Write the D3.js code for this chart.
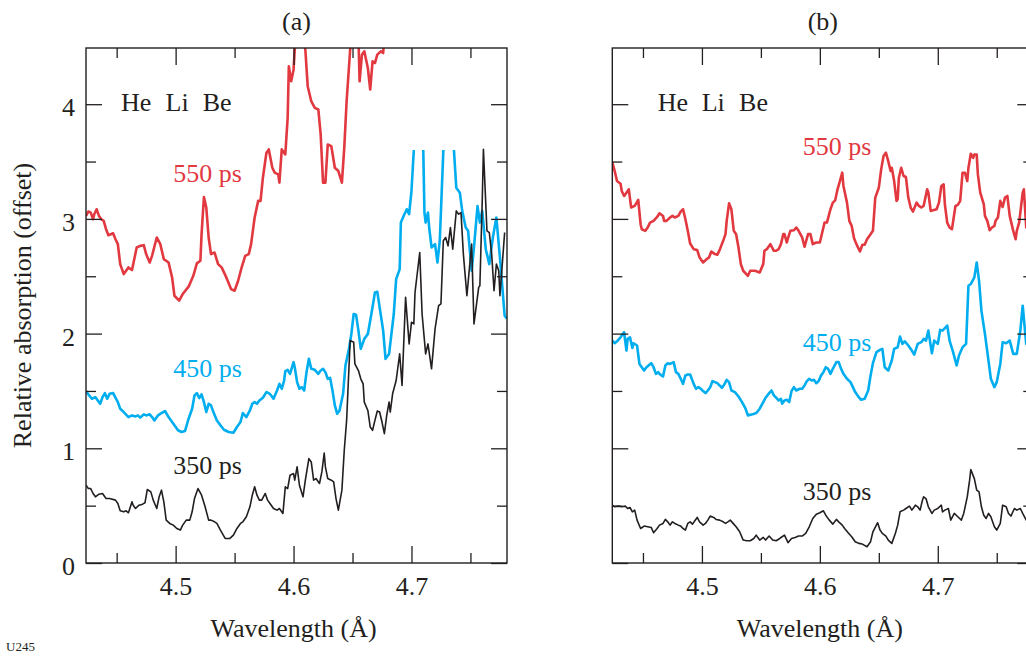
<!DOCTYPE html>
<html>
<head>
<meta charset="utf-8">
<script src="https://cdn.jsdelivr.net/npm/d3@7"></script>
<style>
body { margin: 0; background: #fff; }
text { font-family: "Liberation Serif", "Times New Roman", serif; fill: #231f20; }
</style>
</head>
<body>
<svg width="1026" height="656"></svg>
<script>
// wavelength (Å), relative absorption (offset)
var a550 = [[4.424,3.026],[4.426,3.064],[4.428,3.055],[4.430,2.997],[4.431,3.041],[4.433,3.084],[4.435,3.026],[4.437,2.997],[4.439,2.983],[4.441,2.910],[4.443,2.858],[4.447,2.875],[4.449,2.823],[4.451,2.780],[4.453,2.606],[4.456,2.519],[4.460,2.577],[4.463,2.554],[4.467,2.751],[4.470,2.765],[4.473,2.771],[4.475,2.693],[4.478,2.620],[4.480,2.678],[4.484,2.838],[4.487,2.780],[4.490,2.649],[4.494,2.620],[4.497,2.490],[4.499,2.330],[4.503,2.287],[4.506,2.345],[4.511,2.409],[4.515,2.504],[4.518,2.612],[4.521,2.635],[4.522,2.867],[4.524,3.191],[4.526,3.099],[4.528,2.838],[4.530,2.693],[4.533,2.707],[4.536,2.606],[4.539,2.577],[4.543,2.490],[4.547,2.388],[4.550,2.374],[4.553,2.461],[4.556,2.577],[4.559,2.678],[4.562,2.693],[4.564,2.780],[4.567,3.012],[4.570,3.157],[4.572,3.157],[4.574,3.359],[4.577,3.577],[4.579,3.606],[4.582,3.446],[4.584,3.403],[4.587,3.388],[4.588,3.316],[4.590,3.606],[4.593,3.562],[4.595,3.881],[4.596,4.330],[4.598,4.200],[4.600,4.301],[4.601,4.475],[4.604,4.72],[4.608,4.72],[4.610,4.475],[4.612,4.157],[4.615,4.026],[4.618,3.968],[4.621,3.954],[4.623,3.736],[4.625,3.316],[4.627,3.316],[4.629,3.649],[4.632,3.635],[4.635,3.446],[4.638,3.417],[4.641,3.316],[4.643,3.620],[4.645,4.026],[4.648,4.475],[4.651,4.72],[4.655,4.60],[4.656,4.200],[4.658,4.432],[4.660,4.461],[4.663,4.316],[4.665,4.128],[4.667,4.374],[4.669,4.359],[4.671,4.432],[4.674,4.461],[4.676,4.446],[4.677,4.60],[4.700,4.80],[4.781,4.80]];

var a450 = [[4.424,1.499],[4.426,1.470],[4.429,1.432],[4.432,1.446],[4.434,1.417],[4.436,1.388],[4.438,1.446],[4.440,1.481],[4.442,1.432],[4.444,1.475],[4.447,1.481],[4.449,1.441],[4.451,1.403],[4.453,1.345],[4.456,1.316],[4.460,1.272],[4.463,1.287],[4.466,1.278],[4.468,1.287],[4.470,1.267],[4.473,1.296],[4.475,1.287],[4.478,1.296],[4.480,1.272],[4.482,1.243],[4.485,1.287],[4.488,1.307],[4.491,1.325],[4.494,1.272],[4.497,1.229],[4.499,1.200],[4.502,1.157],[4.505,1.142],[4.508,1.151],[4.511,1.258],[4.514,1.345],[4.516,1.461],[4.518,1.481],[4.520,1.438],[4.522,1.470],[4.524,1.403],[4.526,1.316],[4.528,1.388],[4.530,1.374],[4.532,1.316],[4.535,1.243],[4.538,1.200],[4.541,1.162],[4.545,1.142],[4.549,1.136],[4.552,1.186],[4.555,1.229],[4.557,1.307],[4.560,1.272],[4.563,1.330],[4.565,1.388],[4.567,1.403],[4.569,1.388],[4.571,1.417],[4.574,1.441],[4.577,1.490],[4.579,1.481],[4.581,1.461],[4.583,1.432],[4.586,1.504],[4.588,1.562],[4.590,1.519],[4.592,1.591],[4.593,1.672],[4.595,1.684],[4.597,1.649],[4.600,1.751],[4.601,1.707],[4.603,1.577],[4.605,1.519],[4.607,1.533],[4.609,1.504],[4.611,1.664],[4.613,1.780],[4.615,1.693],[4.618,1.684],[4.621,1.649],[4.623,1.678],[4.625,1.693],[4.627,1.664],[4.629,1.606],[4.631,1.614],[4.633,1.504],[4.635,1.374],[4.637,1.301],[4.639,1.330],[4.642,1.475],[4.644,1.722],[4.647,1.867],[4.649,1.997],[4.651,2.171],[4.653,2.165],[4.655,2.026],[4.657,1.867],[4.660,1.954],[4.663,1.997],[4.666,2.171],[4.669,2.359],[4.671,2.365],[4.673,2.229],[4.676,2.026],[4.678,1.780],[4.681,1.823],[4.683,1.997],[4.685,2.171],[4.687,2.475],[4.690,2.562],[4.691,2.968],[4.694,3.041],[4.696,3.084],[4.698,3.041],[4.700,3.243],[4.702,3.606],[4.706,4.0],[4.709,4.0],[4.710,3.6],[4.711,3.055],[4.712,2.968],[4.714,3.055],[4.715,2.925],[4.717,2.751],[4.720,2.780],[4.722,2.620],[4.724,2.809],[4.725,3.070],[4.727,3.591],[4.731,4.2],[4.735,4.2],[4.736,3.6],[4.738,3.272],[4.741,3.229],[4.743,3.070],[4.746,2.925],[4.748,2.896],[4.751,2.548],[4.753,2.751],[4.756,3.113],[4.758,2.968],[4.760,3.070],[4.763,2.736],[4.766,2.606],[4.769,2.838],[4.772,3.012],[4.775,2.664],[4.779,2.157],[4.781,2.13]];

var a350 = [[4.424,0.678],[4.426,0.649],[4.428,0.649],[4.430,0.606],[4.432,0.577],[4.435,0.600],[4.438,0.606],[4.441,0.562],[4.444,0.562],[4.449,0.548],[4.451,0.519],[4.453,0.455],[4.456,0.446],[4.458,0.455],[4.460,0.438],[4.463,0.533],[4.464,0.504],[4.466,0.475],[4.469,0.504],[4.472,0.513],[4.474,0.525],[4.476,0.641],[4.479,0.620],[4.481,0.548],[4.484,0.475],[4.486,0.577],[4.488,0.635],[4.490,0.533],[4.492,0.374],[4.495,0.345],[4.498,0.330],[4.501,0.301],[4.504,0.287],[4.506,0.330],[4.509,0.374],[4.512,0.374],[4.514,0.446],[4.516,0.562],[4.519,0.649],[4.522,0.591],[4.525,0.490],[4.528,0.374],[4.530,0.374],[4.533,0.359],[4.535,0.345],[4.538,0.287],[4.542,0.214],[4.546,0.214],[4.549,0.243],[4.552,0.301],[4.555,0.345],[4.557,0.359],[4.560,0.403],[4.563,0.490],[4.565,0.591],[4.567,0.664],[4.569,0.591],[4.571,0.548],[4.573,0.548],[4.576,0.606],[4.578,0.548],[4.580,0.519],[4.583,0.475],[4.586,0.461],[4.588,0.475],[4.591,0.432],[4.593,0.664],[4.595,0.649],[4.597,0.765],[4.600,0.780],[4.601,0.722],[4.603,0.838],[4.605,0.678],[4.608,0.577],[4.610,0.722],[4.613,0.910],[4.615,0.881],[4.617,0.722],[4.619,0.736],[4.622,0.693],[4.624,0.794],[4.626,0.959],[4.627,0.838],[4.629,0.736],[4.632,0.722],[4.634,0.707],[4.636,0.562],[4.638,0.461],[4.641,0.635],[4.643,0.983],[4.645,1.243],[4.647,1.707],[4.648,1.939],[4.651,1.925],[4.652,1.736],[4.655,1.678],[4.657,1.606],[4.659,1.562],[4.660,1.403],[4.663,1.330],[4.665,1.186],[4.667,1.157],[4.669,1.243],[4.671,1.325],[4.673,1.316],[4.675,1.229],[4.677,1.128],[4.679,1.287],[4.681,1.403],[4.682,1.316],[4.684,1.475],[4.687,1.591],[4.690,1.823],[4.692,1.548],[4.695,2.316],[4.698,1.910],[4.700,2.099],[4.702,2.084],[4.703,2.359],[4.707,2.707],[4.709,2.171],[4.712,1.823],[4.714,1.910],[4.717,1.693],[4.720,2.041],[4.723,2.243],[4.725,2.260],[4.727,2.809],[4.729,2.838],[4.731,2.765],[4.733,2.925],[4.735,2.736],[4.738,3.070],[4.740,3.041],[4.742,3.055],[4.744,2.693],[4.747,2.330],[4.751,2.780],[4.753,2.084],[4.757,2.403],[4.758,2.417],[4.760,3.157],[4.761,3.606],[4.764,2.896],[4.766,2.881],[4.768,2.693],[4.770,2.374],[4.772,2.606],[4.774,2.548],[4.775,2.330],[4.779,2.881]];

var b550 = [[4.424,3.496],[4.426,3.417],[4.428,3.330],[4.431,3.307],[4.432,3.243],[4.434,3.200],[4.436,3.229],[4.438,3.258],[4.440,3.099],[4.443,3.113],[4.446,3.165],[4.448,2.954],[4.449,2.910],[4.452,2.896],[4.454,2.925],[4.456,2.968],[4.459,2.983],[4.462,3.017],[4.464,3.049],[4.467,3.026],[4.468,2.983],[4.470,2.983],[4.473,3.012],[4.475,3.026],[4.477,3.012],[4.480,3.026],[4.482,3.064],[4.484,3.084],[4.486,2.997],[4.488,2.896],[4.490,2.786],[4.493,2.736],[4.496,2.728],[4.498,2.664],[4.501,2.620],[4.504,2.649],[4.506,2.664],[4.508,2.716],[4.511,2.693],[4.513,2.687],[4.515,2.728],[4.518,2.809],[4.520,2.867],[4.521,2.983],[4.523,3.136],[4.525,3.084],[4.527,2.896],[4.529,2.867],[4.531,2.751],[4.533,2.606],[4.535,2.548],[4.539,2.504],[4.541,2.548],[4.545,2.548],[4.549,2.533],[4.552,2.606],[4.553,2.722],[4.555,2.736],[4.558,2.780],[4.561,2.722],[4.563,2.722],[4.565,2.736],[4.567,2.780],[4.569,2.867],[4.570,2.867],[4.572,2.794],[4.573,2.832],[4.575,2.896],[4.578,2.901],[4.580,2.925],[4.582,2.896],[4.585,2.838],[4.587,2.757],[4.590,2.867],[4.592,2.867],[4.594,2.780],[4.597,2.794],[4.600,2.794],[4.604,2.968],[4.606,2.968],[4.609,3.084],[4.611,3.142],[4.613,3.162],[4.615,3.258],[4.617,3.330],[4.619,3.403],[4.620,3.287],[4.623,3.142],[4.625,2.983],[4.627,2.939],[4.629,2.832],[4.631,2.780],[4.634,2.716],[4.636,2.774],[4.638,2.774],[4.640,2.823],[4.643,2.867],[4.645,2.896],[4.647,3.186],[4.650,3.272],[4.652,3.432],[4.654,3.548],[4.656,3.577],[4.658,3.504],[4.660,3.417],[4.661,3.446],[4.663,3.330],[4.665,3.157],[4.666,3.171],[4.667,3.359],[4.669,3.446],[4.671,3.374],[4.673,3.365],[4.675,3.186],[4.677,3.099],[4.679,3.064],[4.682,3.142],[4.684,3.113],[4.686,3.099],[4.688,3.113],[4.691,3.258],[4.692,3.230],[4.694,3.070],[4.696,3.075],[4.699,3.084],[4.701,3.142],[4.703,3.287],[4.705,3.301],[4.706,3.128],[4.708,2.968],[4.710,2.925],[4.712,2.910],[4.715,3.113],[4.717,3.122],[4.719,3.157],[4.721,3.403],[4.723,3.403],[4.725,3.330],[4.726,3.446],[4.728,3.568],[4.730,3.533],[4.731,3.562],[4.733,3.562],[4.734,3.388],[4.736,3.229],[4.739,3.128],[4.740,3.026],[4.742,2.983],[4.744,2.901],[4.746,2.925],[4.748,2.939],[4.749,2.983],[4.751,3.012],[4.753,3.157],[4.755,3.104],[4.757,3.186],[4.759,3.200],[4.761,3.026],[4.764,2.896],[4.766,2.823],[4.767,2.896],[4.769,2.968],[4.772,3.229],[4.773,3.258],[4.775,2.925],[4.781,2.900]];

var b450 = [[4.424,1.939],[4.426,1.916],[4.428,1.933],[4.431,1.968],[4.432,1.983],[4.434,2.012],[4.436,1.852],[4.437,1.954],[4.439,1.968],[4.441,1.875],[4.442,1.916],[4.445,1.896],[4.447,1.736],[4.449,1.707],[4.451,1.678],[4.453,1.707],[4.457,1.742],[4.459,1.707],[4.461,1.649],[4.463,1.664],[4.464,1.649],[4.467,1.626],[4.469,1.722],[4.471,1.742],[4.473,1.736],[4.476,1.751],[4.478,1.664],[4.480,1.649],[4.482,1.606],[4.484,1.562],[4.486,1.635],[4.488,1.643],[4.490,1.643],[4.493,1.562],[4.495,1.519],[4.497,1.533],[4.499,1.519],[4.501,1.499],[4.503,1.481],[4.505,1.504],[4.507,1.533],[4.509,1.586],[4.511,1.577],[4.513,1.568],[4.515,1.548],[4.517,1.527],[4.519,1.557],[4.521,1.597],[4.523,1.577],[4.525,1.504],[4.528,1.490],[4.531,1.452],[4.534,1.403],[4.537,1.345],[4.539,1.287],[4.543,1.296],[4.546,1.307],[4.549,1.345],[4.552,1.403],[4.554,1.441],[4.557,1.481],[4.559,1.504],[4.561,1.461],[4.563,1.441],[4.565,1.417],[4.567,1.432],[4.568,1.388],[4.570,1.417],[4.572,1.423],[4.574,1.403],[4.576,1.499],[4.578,1.533],[4.580,1.504],[4.583,1.519],[4.585,1.519],[4.587,1.548],[4.589,1.586],[4.591,1.606],[4.593,1.591],[4.595,1.597],[4.597,1.568],[4.599,1.586],[4.601,1.635],[4.603,1.664],[4.605,1.707],[4.607,1.693],[4.609,1.649],[4.611,1.693],[4.614,1.751],[4.616,1.751],[4.618,1.693],[4.620,1.649],[4.623,1.606],[4.626,1.577],[4.628,1.533],[4.630,1.490],[4.633,1.446],[4.635,1.423],[4.638,1.432],[4.641,1.504],[4.643,1.635],[4.645,1.742],[4.648,1.838],[4.651,1.858],[4.653,1.867],[4.655,1.707],[4.658,1.678],[4.661,1.765],[4.663,1.867],[4.666,1.881],[4.668,1.974],[4.670,1.910],[4.672,1.933],[4.675,1.896],[4.678,1.852],[4.680,1.817],[4.683,1.910],[4.686,1.925],[4.688,1.954],[4.690,1.939],[4.692,2.026],[4.695,1.829],[4.697,1.939],[4.700,1.910],[4.702,2.032],[4.704,2.026],[4.708,2.070],[4.710,1.939],[4.713,1.838],[4.716,1.722],[4.718,1.809],[4.721,1.881],[4.724,1.910],[4.726,2.417],[4.728,2.432],[4.731,2.490],[4.733,2.620],[4.735,2.461],[4.737,2.200],[4.740,1.997],[4.743,1.765],[4.745,1.606],[4.748,1.533],[4.750,1.577],[4.753,1.736],[4.755,1.925],[4.758,1.916],[4.761,1.939],[4.764,1.823],[4.767,1.823],[4.770,2.026],[4.772,2.243],[4.775,1.910],[4.781,1.850]];

var b350 = [[4.424,0.504],[4.426,0.490],[4.429,0.496],[4.432,0.490],[4.435,0.496],[4.437,0.475],[4.439,0.484],[4.441,0.446],[4.443,0.461],[4.445,0.374],[4.448,0.301],[4.451,0.322],[4.454,0.316],[4.457,0.310],[4.459,0.264],[4.462,0.301],[4.464,0.330],[4.467,0.345],[4.469,0.380],[4.471,0.359],[4.473,0.330],[4.475,0.359],[4.477,0.345],[4.480,0.330],[4.482,0.322],[4.484,0.301],[4.486,0.287],[4.488,0.345],[4.490,0.359],[4.492,0.339],[4.494,0.368],[4.496,0.397],[4.498,0.359],[4.501,0.330],[4.503,0.345],[4.505,0.374],[4.507,0.409],[4.510,0.397],[4.512,0.380],[4.515,0.374],[4.518,0.359],[4.520,0.345],[4.522,0.359],[4.524,0.374],[4.527,0.339],[4.529,0.316],[4.532,0.272],[4.535,0.200],[4.538,0.194],[4.541,0.194],[4.544,0.214],[4.546,0.243],[4.549,0.200],[4.552,0.223],[4.554,0.200],[4.557,0.235],[4.560,0.200],[4.563,0.194],[4.566,0.214],[4.568,0.229],[4.570,0.243],[4.573,0.177],[4.576,0.214],[4.579,0.223],[4.582,0.235],[4.585,0.235],[4.588,0.258],[4.591,0.316],[4.594,0.388],[4.597,0.426],[4.600,0.438],[4.603,0.455],[4.605,0.417],[4.608,0.374],[4.611,0.339],[4.614,0.380],[4.616,0.359],[4.619,0.330],[4.621,0.301],[4.624,0.264],[4.627,0.229],[4.630,0.186],[4.633,0.171],[4.636,0.165],[4.640,0.142],[4.643,0.186],[4.645,0.272],[4.649,0.351],[4.651,0.287],[4.653,0.258],[4.656,0.235],[4.658,0.200],[4.661,0.171],[4.664,0.258],[4.666,0.330],[4.668,0.446],[4.671,0.461],[4.673,0.475],[4.676,0.496],[4.678,0.461],[4.681,0.504],[4.683,0.490],[4.685,0.461],[4.687,0.548],[4.688,0.577],[4.690,0.562],[4.692,0.490],[4.695,0.432],[4.697,0.461],[4.700,0.475],[4.703,0.504],[4.704,0.446],[4.706,0.461],[4.709,0.475],[4.711,0.374],[4.714,0.432],[4.717,0.403],[4.720,0.374],[4.722,0.432],[4.725,0.577],[4.727,0.722],[4.728,0.814],[4.731,0.736],[4.733,0.635],[4.735,0.620],[4.737,0.490],[4.739,0.417],[4.741,0.388],[4.743,0.432],[4.745,0.403],[4.748,0.316],[4.750,0.287],[4.753,0.345],[4.755,0.504],[4.758,0.490],[4.760,0.432],[4.762,0.409],[4.765,0.475],[4.767,0.461],[4.770,0.475],[4.772,0.432],[4.775,0.374],[4.781,0.360]];

var xMajor = [4.5, 4.6, 4.7],
    xMinor = [4.45, 4.55, 4.65, 4.75],
    yMajor = [0, 1, 2, 3, 4],
    yMinor = [0.5, 1.5, 2.5, 3.5];

var delays = ["550 ps", "450 ps", "350 ps"];
var elements = ["He", "Li", "Be"];

var colors = ["#e2383f", "#00aeef", "#231f20"],
    widths = [2.6, 2.6, 1.6];

var svg = d3.select("svg"),
    width = 421,
    height = 515,
    plotTop = 48;

var x = d3.scaleLinear().domain([4.424, 4.781]).range([0, width]),
    y = d3.scaleLinear().domain([0, 4.49]).range([height, 0]);

var line = d3.line()
    .x(function(d) { return x(d[0]); })
    .y(function(d) { return y(d[1]); });

var panels = [
  {id: "a", left: 86, title: "(a)", data: [a550, a450, a350], cap: [null, 3.6, null], yLabels: true,
   labelPos: [[4.498, 3.32], [4.498, 1.62], [4.498, 0.774]], elemX: [4.4537, 4.4915, 4.5230]},
  {id: "b", left: 612.3, title: "(b)", data: [b550, b450, b350], cap: [null, null, null], yLabels: false,
   labelPos: [[4.5855, 3.557], [4.5855, 1.852], [4.5855, 0.548]], elemX: [4.4625, 4.4998, 4.5315]}
];

var defs = svg.append("defs");

panels.forEach(function(p) {
  var g = svg.append("g").attr("transform", "translate(" + p.left + "," + plotTop + ")");

  defs.append("clipPath").attr("id", "clip-" + p.id)
    .append("rect").attr("width", width).attr("height", height);
  defs.append("clipPath").attr("id", "cap-" + p.id)
    .append("rect").attr("y", y(3.6)).attr("width", width).attr("height", height - y(3.6));

  p.data.forEach(function(d, i) {
    g.append("path")
        .datum(d)
        .attr("clip-path", "url(#" + (p.cap[i] ? "cap-" : "clip-") + p.id + ")")
        .attr("d", line)
        .style("fill", "none")
        .style("stroke", colors[i])
        .style("stroke-width", widths[i])
        .style("stroke-linejoin", "round");
  });

  // ticks, all pointing inward
  var axes = [
    g.append("g").attr("transform", "translate(0," + height + ")")
      .call(d3.axisBottom(x).tickValues(xMajor).tickSize(-17).tickPadding(14).tickFormat(d3.format(".1f"))),
    g.append("g").attr("transform", "translate(0," + height + ")")
      .call(d3.axisBottom(x).tickValues(xMinor).tickSize(-10).tickFormat("")),
    g.append("g").call(d3.axisTop(x).tickValues(xMajor).tickSize(-17).tickFormat("")),
    g.append("g").call(d3.axisTop(x).tickValues(xMinor).tickSize(-10).tickFormat("")),
    g.append("g").call(d3.axisLeft(y).tickValues(yMajor).tickSize(-16).tickPadding(11)
      .tickFormat(p.yLabels ? d3.format("d") : "")),
    g.append("g").call(d3.axisLeft(y).tickValues(yMinor).tickSize(-10).tickFormat("")),
    g.append("g").attr("transform", "translate(" + width + ",0)")
      .call(d3.axisRight(y).tickValues(yMajor).tickSize(-16).tickFormat("")),
    g.append("g").attr("transform", "translate(" + width + ",0)")
      .call(d3.axisRight(y).tickValues(yMinor).tickSize(-10).tickFormat(""))
  ];
  axes.forEach(function(a) {
    a.attr("font-size", 26);
    a.select(".domain").remove();
    a.selectAll(".tick line").style("stroke", "#231f20").style("stroke-width", 1.3);
  });
  axes[4].selectAll("text").attr("dy", "0.44em");

  g.append("rect")
      .attr("width", width)
      .attr("height", height)
      .style("fill", "none")
      .style("stroke", "#231f20")
      .style("stroke-width", 1.4);

  g.selectAll(".delay")
    .data(delays)
    .enter().append("text")
      .attr("class", "delay")
      .attr("x", function(d, i) { return x(p.labelPos[i][0]); })
      .attr("y", function(d, i) { return y(p.labelPos[i][1]); })
      .attr("font-size", 26)
      .style("fill", function(d, i) { return colors[i]; })
      .text(function(d) { return d; });

  g.selectAll(".elem")
    .data(elements)
    .enter().append("text")
      .attr("class", "elem")
      .attr("x", function(d, i) { return x(p.elemX[i]); })
      .attr("y", y(3.94))
      .attr("font-size", 26)
      .text(function(d) { return d; });

  g.append("text")
      .attr("x", width / 2)
      .attr("y", 30 - plotTop)
      .attr("text-anchor", "middle")
      .attr("font-size", 26)
      .text(p.title);

  g.append("text")
      .attr("x", x(4.6))
      .attr("y", 637 - plotTop)
      .attr("text-anchor", "middle")
      .attr("font-size", 26)
      .text("Wavelength (Å)");
});

svg.append("text")
    .attr("transform", "translate(31,305.5) rotate(-90)")
    .attr("text-anchor", "middle")
    .attr("font-size", 26)
    .text("Relative absorption (offset)");

svg.append("text")
    .attr("x", 6)
    .attr("y", 651)
    .attr("font-size", 13)
    .text("U245");
</script>
</body>
</html>
